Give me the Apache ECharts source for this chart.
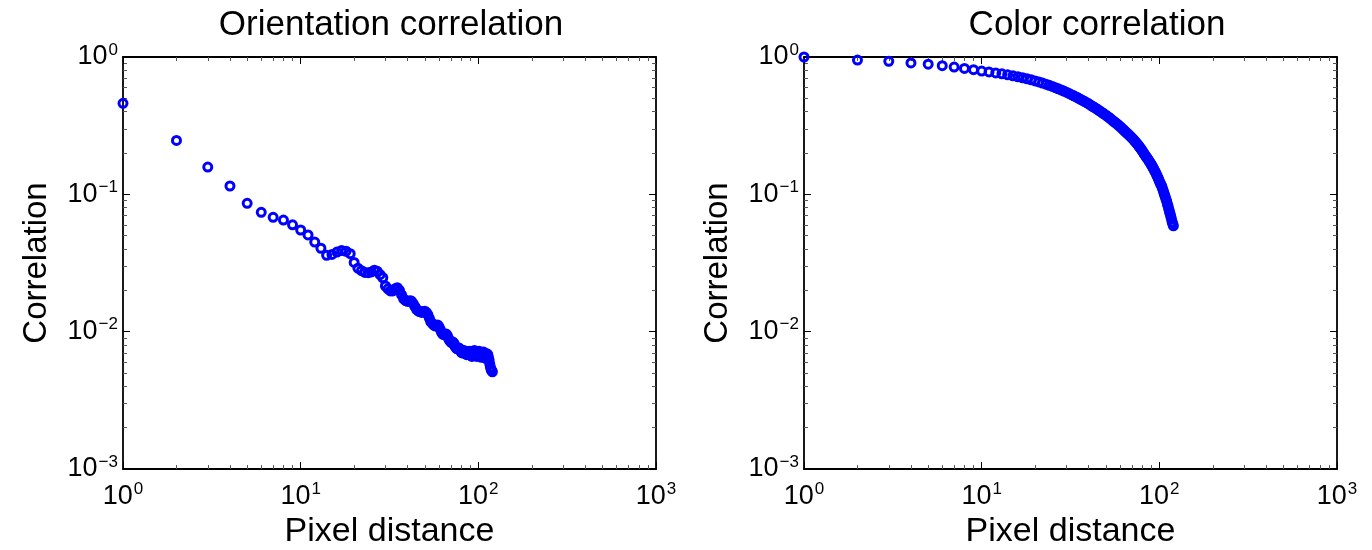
<!DOCTYPE html>
<html>
<head>
<meta charset="utf-8">
<script src="https://cdn.jsdelivr.net/npm/echarts@6/dist/echarts.min.js"></script>
<style>
  html, body { margin: 0; padding: 0; background: #fff; }
  #chart { width: 1372px; height: 550px; }
</style>
</head>
<body>
<div id="chart"></div>
<script>
// pixel distances 1..120
const distance = [
  1, 2, 3, 4, 5, 6, 7, 8, 9, 10, 11, 12, 13, 14, 15, 16, 17, 18, 19, 20,
  21, 22, 23, 24, 25, 26, 27, 28, 29, 30, 31, 32, 33, 34, 35, 36, 37, 38, 39, 40,
  41, 42, 43, 44, 45, 46, 47, 48, 49, 50, 51, 52, 53, 54, 55, 56, 57, 58, 59, 60,
  61, 62, 63, 64, 65, 66, 67, 68, 69, 70, 71, 72, 73, 74, 75, 76, 77, 78, 79, 80,
  81, 82, 83, 84, 85, 86, 87, 88, 89, 90, 91, 92, 93, 94, 95, 96, 97, 98, 99, 100,
  101, 102, 103, 104, 105, 106, 107, 108, 109, 110, 111, 112, 113, 114, 115, 116, 117, 118, 119, 120
];

// orientation correlation
const orientationCorr = [
  0.46, 0.247, 0.158, 0.115, 0.086, 0.074, 0.068, 0.065, 0.060, 0.055,
  0.0506, 0.0449, 0.0405, 0.036, 0.0365, 0.038, 0.039, 0.0385, 0.037, 0.0319,
  0.029, 0.0278, 0.027, 0.0269, 0.0272, 0.028, 0.0275, 0.026, 0.0247, 0.0215,
  0.0205, 0.0198, 0.0198, 0.0205, 0.0209, 0.0200, 0.0185, 0.0173, 0.0168, 0.0166,
  0.0168, 0.0167, 0.0160, 0.0152, 0.0145, 0.0141, 0.0140, 0.0138, 0.0140, 0.0141,
  0.0138, 0.0133, 0.0125, 0.0118, 0.0115, 0.0112, 0.0110, 0.0111, 0.0112, 0.0109,
  0.0104, 0.0099, 0.0096, 0.0095, 0.0095, 0.0096, 0.0093, 0.0089, 0.0086, 0.0084,
  0.0083, 0.0084, 0.0082, 0.0078, 0.0076, 0.0075, 0.0075, 0.0076, 0.0074, 0.0071,
  0.0070, 0.0071, 0.0073, 0.0072, 0.0069, 0.0068, 0.0069, 0.0071, 0.0072, 0.0070,
  0.0067, 0.0066, 0.0068, 0.0071, 0.0073, 0.0071, 0.0068, 0.0066, 0.0067, 0.0070,
  0.0072, 0.0070, 0.0067, 0.0065, 0.0066, 0.0069, 0.0071, 0.0069, 0.0066, 0.0064,
  0.0066, 0.0069, 0.0068, 0.0065, 0.0062, 0.0058, 0.0055, 0.0053, 0.0052, 0.0051
];

// color correlation
const colorCorr = [
  1.0, 0.95, 0.93, 0.905, 0.887, 0.865, 0.845, 0.826, 0.808, 0.79,
  0.778, 0.766, 0.754, 0.742, 0.730, 0.718, 0.706, 0.694, 0.682, 0.670,
  0.658, 0.646, 0.634, 0.622, 0.610, 0.598, 0.587, 0.576, 0.565, 0.554,
  0.543, 0.532, 0.522, 0.512, 0.502, 0.492, 0.483, 0.474, 0.465, 0.456,
  0.447, 0.438, 0.430, 0.422, 0.414, 0.406, 0.398, 0.391, 0.384, 0.377,
  0.370, 0.363, 0.356, 0.349, 0.342, 0.336, 0.330, 0.324, 0.318, 0.312,
  0.306, 0.300, 0.294, 0.288, 0.283, 0.278, 0.273, 0.268, 0.263, 0.258,
  0.253, 0.248, 0.243, 0.238, 0.233, 0.228, 0.223, 0.218, 0.213, 0.208,
  0.203, 0.198, 0.193, 0.189, 0.185, 0.181, 0.177, 0.173, 0.169, 0.165,
  0.161, 0.157, 0.153, 0.149, 0.145, 0.141, 0.137, 0.133, 0.129, 0.125,
  0.121, 0.118, 0.115, 0.111, 0.107, 0.103, 0.099, 0.096, 0.092, 0.089,
  0.085, 0.082, 0.078, 0.075, 0.072, 0.069, 0.066, 0.063, 0.061, 0.059
];

const titles = ['Orientation correlation', 'Color correlation'];
const xName = 'Pixel distance';
const yName = 'Correlation';

const font = '"Liberation Sans", Arial, Helvetica, sans-serif';
const blue = '#0000ff';

function powLabel(v) {
  const e = Math.round(Math.log10(v));
  return '{b|10}{s|' + (e < 0 ? '\u2212' + (-e) : e) + '}';
}

const labelRich = {
  b: { fontSize: 27, fontFamily: font, color: '#000' },
  s: { fontSize: 17, fontFamily: font, color: '#000', verticalAlign: 'top', padding: [0, 0, 14, 1] }
};

const tick = { show: true, inside: true, length: 7, lineStyle: { color: '#000', width: 1 } };
const minor = { show: true, splitNumber: 9, length: 4, lineStyle: { color: '#555', width: 1 } };
const line = { show: true, lineStyle: { color: '#000', width: 1.8 } };

const grids = [
  { left: 123, right: 716, top: 57, bottom: 81, containLabel: false, outerBoundsMode: 'none' },
  { left: 804, right: 35, top: 57, bottom: 81, containLabel: false, outerBoundsMode: 'none' }
];

const xAxes = [];
const yAxes = [];
[0, 1].forEach(g => {
  xAxes.push({
    type: 'log', logBase: 10, min: 1, max: 1000, gridIndex: g, position: 'bottom',
    axisLine: line, axisTick: tick, minorTick: minor, splitLine: { show: false },
    axisLabel: { formatter: powLabel, rich: labelRich, margin: 12 },
    name: xName, nameLocation: 'middle', nameGap: 42,
    nameTextStyle: { fontSize: 34, fontFamily: font, color: '#000' }
  });
  xAxes.push({
    type: 'log', logBase: 10, min: 1, max: 1000, gridIndex: g, position: 'top',
    axisLine: line, axisTick: tick, minorTick: minor, splitLine: { show: false },
    axisLabel: { show: false }
  });
  yAxes.push({
    type: 'log', logBase: 10, min: 0.001, max: 1, gridIndex: g, position: 'left',
    axisLine: line, axisTick: tick, minorTick: minor, splitLine: { show: false },
    axisLabel: { formatter: powLabel, rich: labelRich, margin: 5 },
    name: yName, nameLocation: 'middle', nameGap: 70, nameRotate: 90,
    nameTextStyle: { fontSize: 33, fontFamily: font, color: '#000' }
  });
  yAxes.push({
    type: 'log', logBase: 10, min: 0.001, max: 1, gridIndex: g, position: 'right',
    axisLine: line, axisTick: tick, minorTick: minor, splitLine: { show: false },
    axisLabel: { show: false }
  });
});

function points(ys) {
  return distance.map((d, i) => [d, ys[i]]);
}

// rings with no fill, so overlapping markers merge into a solid band
const scatterStyle = {
  type: 'scatter', symbol: 'circle', symbolSize: 8,
  itemStyle: { color: 'rgba(255,255,255,0)', borderColor: blue, borderWidth: 3, opacity: 1 },
  emphasis: { disabled: true }
};

const option = {
  backgroundColor: '#fff',
  animation: false,
  title: [
    { text: titles[0], left: 386, top: 3, textAlign: 'center',
      textStyle: { fontSize: 35, fontWeight: 'normal', fontFamily: font, color: '#000' } },
    { text: titles[1], left: 1092, top: 3, textAlign: 'center',
      textStyle: { fontSize: 35, fontWeight: 'normal', fontFamily: font, color: '#000' } }
  ],
  grid: grids,
  xAxis: xAxes,
  yAxis: yAxes,
  series: [
    Object.assign({}, scatterStyle, { xAxisIndex: 0, yAxisIndex: 0, data: points(orientationCorr) }),
    Object.assign({}, scatterStyle, { xAxisIndex: 2, yAxisIndex: 2, data: points(colorCorr) })
  ]
};

const chart = echarts.init(document.getElementById('chart'));
chart.setOption(option);
</script>
</body>
</html>
